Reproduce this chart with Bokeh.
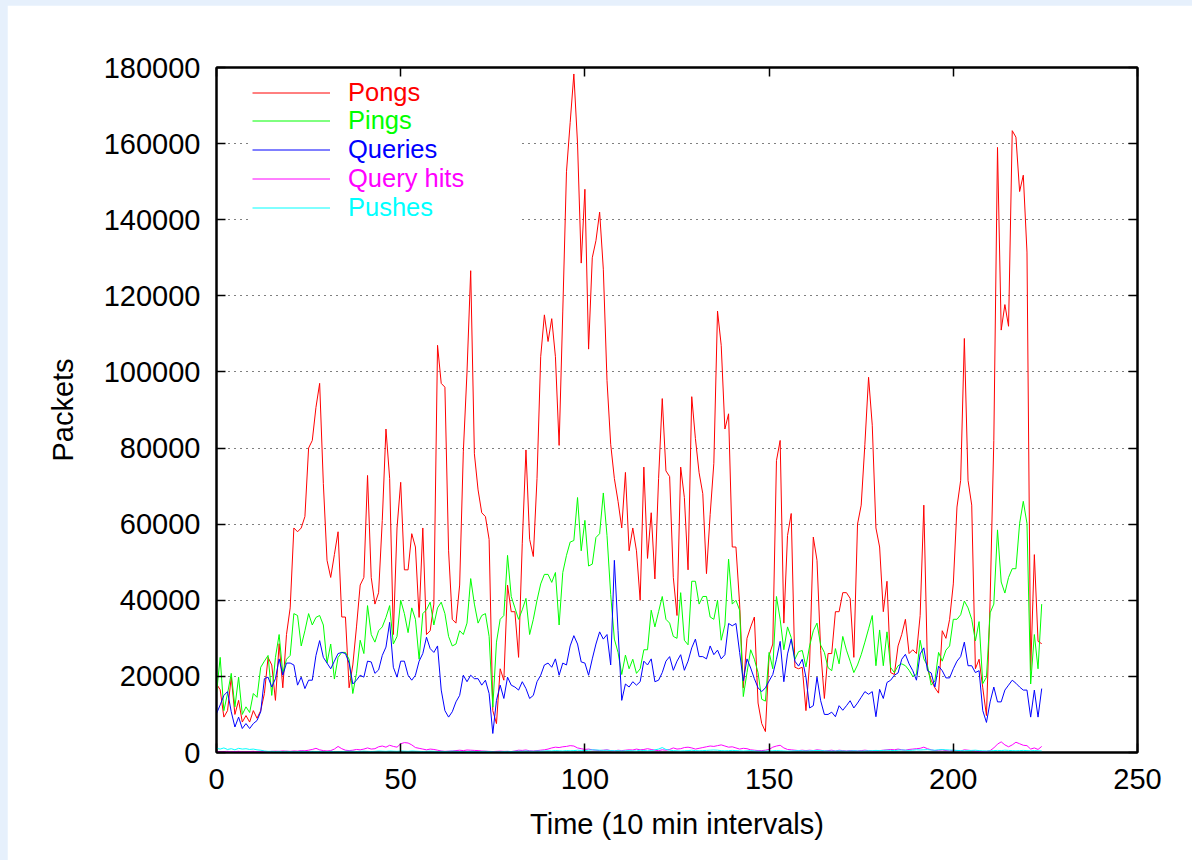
from bokeh.plotting import figure
from bokeh.models import (LinearAxis, Legend, LegendItem, FixedTicker, Range1d,
                          BasicTickFormatter, CustomJSTickFormatter)
from bokeh.layouts import column
from bokeh.embed import file_html
from bokeh.resources import INLINE

# ---------------- data ----------------
time_idx = list(range(225))

pongs = [
    18000, 16500, 9300, 11000, 19800, 10000, 13700, 8000, 9700, 8000,
    11000, 9000, 11000, 15500, 25000, 23000, 13700, 28600, 17000, 31000,
    38000, 59000, 58000, 59000, 62000, 80000, 82000, 90700, 97000, 70700,
    50500, 46000, 52000, 58000, 35600, 35600, 17000, 23000, 33000, 44000,
    46000, 72800, 46000, 39000, 42000, 61000, 85000, 72000, 31000, 59000,
    71000, 48000, 48000, 57500, 54000, 35500, 59000, 31000, 32000, 39000,
    107000, 97000, 96000, 53000, 35000, 34000, 44000, 79000, 100000, 126600,
    78500, 69000, 63000, 62000, 56000, 11000, 7600, 22000, 19000, 44000,
    37000, 37000, 25000, 55000, 79500, 56000, 51500, 72000, 104000, 115000,
    108000, 114000, 104000, 80700, 116000, 152600, 165500, 178300, 160000, 128600,
    148000, 106000, 130000, 134500, 142000, 127000, 97700, 81000, 72000, 66000,
    59000, 73600, 53000, 59000, 53000, 40000, 75000, 51000, 63000, 45600,
    72000, 93000, 74000, 72500, 46000, 36000, 75000, 67000, 48000, 93500,
    82500, 73500, 68000, 47000, 62500, 76000, 116000, 107000, 85000, 89000,
    54000, 54000, 39000, 17000, 30000, 33000, 35600, 13000, 7600, 5500,
    25500, 28500, 76700, 82000, 34000, 57000, 62800, 22400, 22000, 22400,
    11000, 23500, 56600, 50500, 26800, 14200, 26000, 26000, 37000, 37000,
    42000, 42000, 40500, 25000, 60000, 65000, 81000, 98600, 86000, 59000,
    54000, 37000, 45000, 21000, 20500, 28000, 31000, 35000, 26000, 27000,
    26000, 36000, 65000, 22000, 19000, 17000, 15600, 32000, 30000, 35000,
    44300, 64500, 71500, 108800, 71500, 65000, 22000, 24500, 17000, 9700,
    40000, 82000, 159000, 111000, 117700, 112000, 163400, 161700, 147400, 151700,
    131500, 21600, 52000, 29200, 28600,
]

pings = [
    15500, 25000, 11000, 15500, 20800, 12000, 19800, 10000, 12000, 10500,
    15500, 14500, 22400, 24000, 25500, 15000, 25000, 31000, 20800, 24500,
    25500, 36500, 36000, 28000, 32000, 36500, 33500, 35500, 36000, 33500,
    23500, 28500, 19300, 25000, 26300, 26300, 24500, 15500, 20800, 29500,
    26000, 38600, 31000, 29000, 32000, 33000, 35500, 38600, 28500, 30500,
    40000, 36500, 31500, 38000, 35000, 24500, 36500, 37500, 39500, 33500,
    38000, 39500, 36500, 30500, 28000, 28500, 32000, 31000, 34000, 45700,
    39000, 34000, 36000, 36500, 30500, 11900, 29000, 35000, 36000, 51800,
    41000, 38000, 35000, 37500, 40500, 31000, 35000, 40000, 44300, 46800,
    46800, 44700, 47300, 33500, 47300, 51800, 55300, 55700, 67000, 53000,
    61000, 49000, 49500, 56500, 57500, 68200, 57000, 41500, 29800, 26300,
    20500, 25600, 22000, 24500, 20800, 22000, 27000, 27000, 37400, 33000,
    37000, 41000, 35000, 34000, 30500, 30000, 42000, 29500, 28300, 45000,
    45000, 39000, 41000, 41000, 35600, 35000, 40000, 29500, 33500, 50800,
    39000, 40000, 37400, 14700, 21000, 27000, 24500, 21000, 14000, 13500,
    26300, 22000, 41000, 35000, 27000, 33000, 30200, 24500, 26500, 26800,
    22500, 28000, 32000, 34000, 28200, 26300, 22300, 21500, 27300, 23300,
    30500, 26900, 24000, 21000, 23000, 25700, 29000, 32500, 36000, 22800,
    32200, 22800, 31700, 22300, 21000, 22800, 23300, 22800, 21600, 20000,
    20500, 29500, 24600, 22800, 17700, 18800, 26300, 24000, 26900, 28000,
    35000, 35000, 36200, 39800, 38000, 35000, 29300, 34400, 18100, 19800,
    36700, 39000, 58500, 44800, 41900, 46000, 48300, 48300, 60200, 66000,
    60200, 18000, 31000, 22000, 39000,
]

queries = [
    10200, 12500, 15000, 16000, 10700, 6700, 9300, 6300, 7600, 6300,
    7600, 8400, 10700, 19400, 19800, 17200, 19400, 24600, 20300, 23500,
    23500, 23000, 17700, 19800, 16800, 19000, 19000, 25500, 29400, 25000,
    23500, 22000, 24000, 26000, 26300, 26000, 23500, 18000, 19000, 20300,
    19800, 24000, 23800, 20800, 21700, 25500, 27700, 34200, 22400, 19800,
    24000, 24000, 20300, 19000, 20300, 24000, 26000, 30300, 27300, 26300,
    28000, 16400, 11000, 9300, 10700, 13300, 15000, 20300, 18600, 20300,
    19400, 19400, 17700, 19000, 15500, 5000, 13700, 17700, 14200, 19800,
    17700, 17200, 16400, 18600, 16800, 14200, 15000, 18600, 20300, 23000,
    23500, 22400, 24600, 20300, 23500, 23000, 28000, 30700, 28500, 23800,
    23500, 20300, 24600, 28500, 31700, 29800, 31000, 23000, 50500, 32000,
    13700, 18000, 17200, 18600, 17700, 18600, 24000, 23000, 24600, 18600,
    19000, 21000, 24000, 25200, 21600, 24000, 25700, 21600, 24000, 27500,
    29800, 25200, 25200, 24600, 28000, 25700, 26900, 24600, 25700, 33900,
    33300, 33900, 26300, 18800, 24600, 22200, 19400, 17000, 16000, 17000,
    18800, 20500, 24500, 29200, 18600, 25900, 29800, 24000, 22700, 24500,
    19800, 11700, 12300, 19800, 13600, 10000, 10000, 10600, 9400, 12300,
    11100, 12300, 13600, 11700, 13000, 14500, 16000, 15300, 16000, 9400,
    16600, 14200, 18400, 19000, 20300, 20900, 24500, 25800, 23300, 21500,
    19000, 25900, 27500, 21500, 20900, 17200, 22700, 21500, 19600, 19600,
    22000, 24000, 25200, 29000, 22800, 22800, 21000, 21500, 11000, 7900,
    13300, 17200, 13300, 13300, 16400, 17700, 19000, 18200, 17200, 16400,
    16400, 9300, 16400, 9300, 16800,
]

query_hits = [
    300, 200, 250, 300, 200, 250, 300, 200, 200, 250,
    300, 200, 300, 250, 200, 300, 350, 300, 400, 350,
    300, 400, 350, 500, 450, 600, 800, 1100, 700, 500,
    400, 500, 900, 1600, 1000, 600, 500, 600, 800, 700,
    900, 1200, 900, 1000, 1500, 1700, 1400, 1900, 1600, 1400,
    2300, 2600, 2500, 2000, 1300, 1100, 900, 700, 900, 800,
    600, 400, 300, 350, 400, 500, 600, 500, 650, 600,
    550, 500, 400, 350, 300, 250, 300, 350, 300, 300,
    250, 400, 600, 550, 650, 450, 400, 500, 600, 700,
    900, 1200, 1400, 1300, 1500, 1600, 1800, 1700, 1200, 1000,
    800, 900, 700, 600, 500, 600, 700, 500, 400, 600,
    500, 600, 700, 650, 900, 700, 800, 1000, 800, 600,
    500, 700, 600, 800, 1200, 900, 1000, 1300, 1400, 1200,
    900, 1100, 1300, 1500, 1700, 1600, 1800, 2000, 1700, 1400,
    1500, 1200, 900, 1100, 1000, 700, 600, 500, 500, 600,
    800, 1400, 1700, 1900, 1200, 800, 700, 600, 500, 600,
    500, 600, 500, 700, 600, 400, 500, 600, 400, 600,
    500, 400, 500, 450, 400, 500, 600, 500, 400, 450,
    500, 600, 700, 800, 700, 900, 700, 600, 800, 900,
    1000, 1100, 1400, 1000, 700, 500, 600, 700, 500, 400,
    600, 500, 400, 700, 600, 500, 400, 300, 250, 300,
    500, 1200, 2200, 2800, 2000, 1500, 2000, 2700, 2300, 1900,
    1800, 900, 1200, 800, 1600,
]

pushes = [
    1100, 900, 1200, 800, 1000, 700, 1100, 900, 1000, 800,
    900, 700, 600, 400, 300, 300, 250, 300, 200, 300,
    250, 200, 250, 300, 250, 200, 300, 250, 300, 200,
    250, 300, 250, 200, 250, 300, 350, 300, 250, 300,
    350, 300, 250, 300, 400, 350, 300, 400, 350, 300,
    400, 350, 300, 400, 350, 300, 250, 300, 350, 300,
    250, 300, 250, 300, 350, 300, 250, 200, 250, 300,
    250, 200, 250, 300, 250, 200, 150, 200, 250, 300,
    250, 300, 350, 300, 400, 350, 300, 400, 350, 400,
    450, 400, 500, 450, 400, 500, 450, 500, 600, 550,
    500, 600, 700, 650, 600, 550, 600, 500, 450, 500,
    400, 450, 500, 450, 400, 600, 500, 450, 500, 700,
    900, 1300, 800, 600, 500, 450, 400, 450, 500, 600,
    500, 450, 500, 550, 600, 650, 600, 500, 450, 500,
    550, 500, 450, 400, 450, 500, 400, 350, 300, 350,
    400, 450, 500, 450, 400, 350, 400, 450, 500, 450,
    400, 450, 500, 550, 500, 450, 400, 350, 400, 450,
    400, 350, 400, 450, 400, 350, 400, 450, 500, 550,
    500, 550, 600, 550, 500, 600, 650, 600, 550, 600,
    700, 650, 700, 750, 650, 600, 700, 750, 700, 650,
    600, 550, 500, 450, 500, 550, 600, 500, 450, 400,
    450, 500, 550, 500, 600, 550, 500, 450, 500, 550,
    500, 450, 500, 450, 400,
]

series_names = ["Pongs", "Pings", "Queries", "Query hits", "Pushes"]
series_colors = ["#ff0000", "#00ff00", "#0000ff", "#ff00ff", "#00ffff"]
x_ticks = [0, 50, 100, 150, 200, 250]
y_ticks = [0, 20000, 40000, 60000, 80000, 100000, 120000, 140000, 160000, 180000]
x_label = "Time (10 min intervals)"
y_label = "Packets"

# ---------------- figure ----------------
FONT = "Liberation Sans"
FS = "29px"
LEG_FS = "25.5px"

p = figure(width=1185, height=855, output_backend="svg", toolbar_location=None,
           x_range=Range1d(0, 250), y_range=Range1d(0, 180000),
           min_border_left=209, min_border_right=55, min_border_top=62,
           min_border_bottom=108, x_axis_label=x_label, y_axis_label=y_label)
p.margin = (5, 0, 0, 7)
p.background_fill_color = "white"
p.border_fill_color = "white"
p.outline_line_color = "black"
p.outline_line_width = 2

for ax, ticks in ((p.xaxis[0], x_ticks), (p.yaxis[0], y_ticks)):
    ax.ticker = FixedTicker(ticks=ticks)
    ax.major_tick_in = 9
    ax.major_tick_out = 0
    ax.minor_tick_in = 0
    ax.minor_tick_out = 0
    ax.axis_line_width = 2
    ax.axis_line_color = "black"
    ax.major_tick_line_width = 1.5
    ax.major_label_text_font = FONT
    ax.major_label_text_font_size = FS
    ax.major_label_text_color = "black"
    ax.axis_label_text_font = FONT
    ax.axis_label_text_font_size = FS
    ax.axis_label_text_font_style = "normal"
    ax.axis_label_text_color = "black"

p.yaxis[0].formatter = BasicTickFormatter(use_scientific=False)
p.xaxis[0].major_label_standoff = 16
p.xaxis[0].axis_label_standoff = 16
p.yaxis[0].major_label_standoff = 16
p.yaxis[0].axis_label_standoff = 22

blank = CustomJSTickFormatter(code="return ''")
top_ax = LinearAxis(ticker=FixedTicker(ticks=x_ticks), formatter=blank,
                    major_tick_in=9, major_tick_out=0, minor_tick_in=0, minor_tick_out=0,
                    axis_line_width=2, major_tick_line_width=1.5, major_label_standoff=0)
right_ax = LinearAxis(ticker=FixedTicker(ticks=y_ticks), formatter=blank,
                      major_tick_in=9, major_tick_out=0, minor_tick_in=0, minor_tick_out=0,
                      axis_line_width=2, major_tick_line_width=1.5, major_label_standoff=0)
p.add_layout(top_ax, "above")
p.add_layout(right_ax, "right")

p.xgrid.visible = False
p.ygrid.ticker = FixedTicker(ticks=y_ticks)
p.ygrid.grid_line_color = "black"
p.ygrid.grid_line_dash = "1 5"
p.ygrid.grid_line_width = 1.2
p.ygrid.grid_line_alpha = 1.0

renderers = []
for vals, col in zip([pongs, pings, queries, query_hits, pushes], series_colors):
    r = p.line(time_idx, vals, line_color=col, line_width=1)
    renderers.append(r)

# legends (one per entry so each label can have its own colour)
frame_h = 685
legends = []
for i, (name, col, r) in enumerate(zip(series_names, series_colors, renderers)):
    lg = Legend(items=[LegendItem(label=name, renderers=[r])],
                location=(36, frame_h - 24.7 - 28.7 * i - 15),
                glyph_width=78, glyph_height=29, label_height=29,
                label_width=172, label_standoff=18, padding=0, spacing=0,
                margin=0, border_line_alpha=0, background_fill_color="white",
                background_fill_alpha=1.0, label_text_font=FONT,
                label_text_font_size=LEG_FS, label_text_color=col)
    legends.append(lg)
for lg in reversed(legends):
    p.add_layout(lg, "center")

layout = column(p, width=1192, height=860, styles={"background-color": "#e6f0fc"})

open("out.html", "w").write(file_html(layout, INLINE))
